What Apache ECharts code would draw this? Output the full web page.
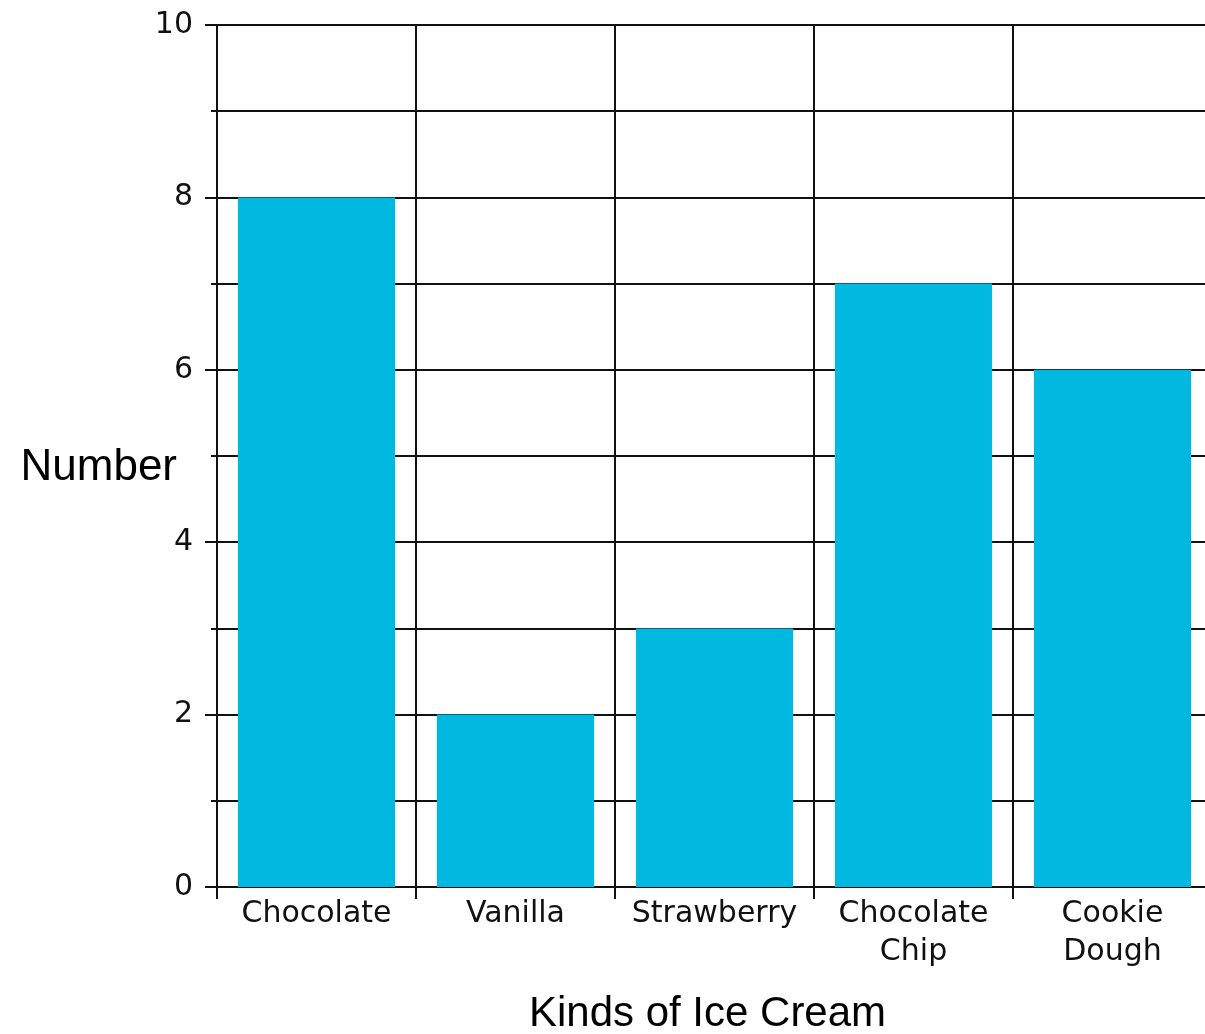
<!DOCTYPE html>
<html>
<head>
<meta charset="utf-8">
<title>Kinds of Ice Cream</title>
<script src="https://cdn.jsdelivr.net/npm/echarts@6/dist/echarts.min.js"></script>
<style>
  html, body { margin: 0; padding: 0; background: #fff; }
  #main { width: 1205px; height: 1034px; }
</style>
</head>
<body>
<div id="main"></div>
<script>
// 数据
var categories = ['Chocolate', 'Vanilla', 'Strawberry', 'Chocolate\nChip', 'Cookie\nDough']
var counts = [8, 2, 3, 7, 6]

var lineStyle = { color: '#111', width: 2 }
var labelFont = 'DejaVu Sans'
var nameFont = 'Liberation Sans'

var myChart = echarts.init(document.getElementById('main'))

myChart.setOption({
  animation: false,
  grid: {
    left: 217,
    top: 25,
    width: 995,
    bottom: 147,
    outerBoundsMode: 'none',
    containLabel: false
  },
  xAxis: {
    type: 'category',
    data: categories,
    name: 'Kinds of Ice Cream',
    nameLocation: 'middle',
    nameGap: 106,
    nameMoveOverlap: false,
    nameTextStyle: {
      fontFamily: nameFont,
      fontSize: 42,
      color: '#000',
      padding: [0, 14, 0, 0]
    },
    axisLine: { lineStyle: lineStyle },
    axisTick: { show: true, alignWithLabel: false, length: 12, lineStyle: lineStyle },
    axisLabel: {
      fontFamily: labelFont,
      fontSize: 30,
      lineHeight: 38,
      color: '#111',
      margin: 8,
      interval: 0
    },
    splitLine: { show: true, lineStyle: lineStyle }
  },
  yAxis: {
    type: 'value',
    min: 0,
    max: 10,
    interval: 2,
    name: 'Number',
    nameLocation: 'middle',
    nameRotate: 0,
    nameGap: 40,
    nameMoveOverlap: false,
    nameTextStyle: {
      fontFamily: nameFont,
      fontSize: 44,
      color: '#000',
      align: 'right',
      verticalAlign: 'top',
      lineHeight: 24
    },
    axisLine: { show: true, lineStyle: lineStyle },
    axisTick: { show: true, length: 12, lineStyle: lineStyle },
    minorTick: { show: true, splitNumber: 2, length: 6, lineStyle: lineStyle },
    axisLabel: {
      fontFamily: labelFont,
      fontSize: 30,
      color: '#111',
      margin: 24
    },
    splitLine: { show: true, lineStyle: lineStyle },
    minorSplitLine: { show: true, lineStyle: lineStyle }
  },
  series: [
    {
      type: 'bar',
      data: counts,
      barWidth: '79%',
      itemStyle: { color: '#00b8e0' }
    }
  ]
})
</script>
</body>
</html>
